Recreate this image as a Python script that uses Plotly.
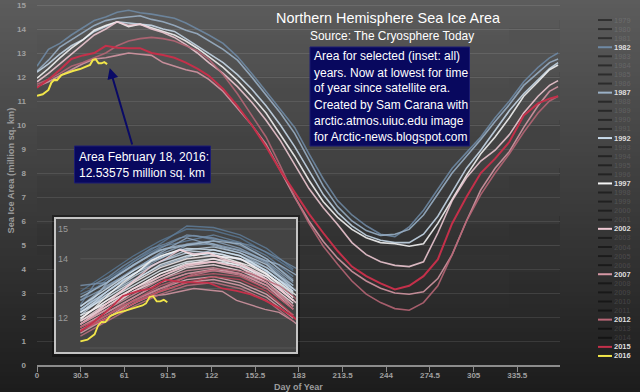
import plotly.graph_objects as go

W, H = 640, 392

# ---------------- data ----------------
DAYS = [0, 8, 16, 24, 32, 40, 48, 56, 64, 72, 80, 88, 96, 104, 112, 120, 130, 140, 150, 160,
        170, 180, 190, 200, 210, 220, 230, 240, 250, 260, 270, 280, 290, 300, 310, 320, 330,
        340, 350, 358, 364]

AREA_1982 = [12.45, 13.15, 13.4, 13.75, 14.05, 14.35, 14.5, 14.7, 14.78, 14.68, 14.62, 14.55, 14.45,
             14.25, 14.0, 13.75, 13.4, 12.85, 12.15, 11.4, 10.65, 9.9, 8.8, 7.75, 6.85, 6.25, 5.8,
             5.45, 5.35, 5.75, 6.45, 7.35, 8.2, 8.85, 9.5, 10.3, 11.0, 11.8, 12.4, 12.8, 13.0]
AREA_1987 = [12.25, 12.7, 13.25, 13.55, 13.85, 14.15, 14.35, 14.45, 14.5, 14.55, 14.4, 14.3, 14.15,
             13.95, 13.8, 13.5, 13.15, 12.7, 12.0, 11.25, 10.5, 9.65, 8.55, 7.45, 6.6, 6.0, 5.6,
             5.4, 5.45, 5.65, 6.25, 7.1, 8.0, 8.7, 9.4, 10.15, 10.85, 11.65, 12.2, 12.6, 12.75]
AREA_1992 = [12.2, 12.55, 12.95, 13.3, 13.55, 13.9, 14.1, 14.3, 14.25, 14.2, 14.15, 14.0, 13.9,
             13.6, 13.3, 13.0, 12.6, 12.1, 11.5, 10.8, 10.0, 9.1, 8.1, 7.1, 6.35, 5.8, 5.4,
             5.2, 5.1, 5.1, 5.45, 6.2, 7.2, 8.2, 8.95, 9.8, 10.6, 11.3, 11.9, 12.35, 12.6]
AREA_1997 = [11.95, 12.35, 12.8, 13.2, 13.55, 13.95, 14.15, 14.3, 14.1, 14.2, 14.05, 13.9, 13.75,
             13.5, 13.2, 12.85, 12.4, 11.85, 11.2, 10.5, 9.6, 8.7, 7.7, 6.8, 6.15, 5.65, 5.3,
             5.1, 5.05, 4.95, 5.05, 5.9, 6.9, 7.9, 8.8, 9.5, 10.3, 11.2, 11.8, 12.3, 12.5]
AREA_2002 = [11.8, 12.15, 12.55, 12.95, 13.35, 13.75, 14.0, 14.3, 14.15, 14.2, 14.0, 13.85, 13.65,
             13.35, 13.0, 12.6, 12.15, 11.6, 10.95, 10.2, 9.35, 8.35, 7.35, 6.55, 5.85, 5.1, 4.6,
             4.3, 4.15, 4.1, 4.3, 5.5, 6.85, 7.8, 8.5, 8.95, 9.6, 10.5, 11.2, 11.65, 11.85]
AREA_2007 = [11.6, 11.8, 12.05, 12.3, 12.55, 12.75, 12.8, 12.9, 13.0, 12.95, 12.9, 12.6, 12.45,
             12.3, 12.2, 11.9, 11.4, 10.7, 10.0, 9.2, 8.1, 7.0, 6.0, 5.15, 4.45, 3.9, 3.5,
             3.2, 3.0, 2.95, 3.05, 3.6, 4.6, 6.0, 7.3, 8.2, 8.9, 9.9, 10.8, 11.4, 11.6]
AREA_2012 = [11.7, 11.9, 12.15, 12.45, 12.6, 12.8, 13.0, 13.3, 13.5, 13.6, 13.65, 13.6, 13.5,
             13.3, 13.1, 12.75, 12.1, 11.3, 10.4, 9.5, 8.3, 7.0, 5.9, 4.95, 4.2, 3.5, 2.95,
             2.6, 2.35, 2.28, 2.6, 3.3, 4.6, 6.0, 7.1, 8.0, 8.8, 9.7, 10.5, 11.0, 11.2]
AREA_2015 = [11.55, 11.9, 12.3, 12.75, 12.9, 13.0, 13.3, 13.22, 13.2, 13.2, 13.0, 12.92, 12.8,
             12.6, 12.35, 12.05, 11.5, 10.8, 10.0, 9.1, 8.1, 7.2, 6.3, 5.5, 4.75, 4.1, 3.7,
             3.4, 3.15, 3.3, 3.7, 4.4, 5.9, 7.0, 8.0, 8.6, 9.3, 10.4, 10.9, 11.1, 11.2]

DAYS_2016 = [0, 4, 8, 10, 12, 14, 17, 21, 25, 30, 35, 37, 39, 41, 43, 45, 47, 49]
AREA_2016 = [11.22, 11.28, 11.46, 11.76, 11.88, 11.87, 12.08, 12.18, 12.25, 12.33, 12.43, 12.5,
             12.71, 12.74, 12.57, 12.57, 12.62, 12.53575]

INSET_DAYS = [0, 15, 30, 45, 60, 75, 90, 105, 120]
INSET_1979 = [12.9, 13.5, 14.1, 14.6, 15.0, 14.95, 14.7, 14.2, 13.6]
INSET_1980 = [12.6, 13.3, 13.9, 14.5, 15.1, 15.05, 14.8, 14.35, 13.65]
INSET_1981 = [12.8, 13.2, 13.9, 14.4, 14.6, 14.8, 14.55, 14.1, 13.4]
INSET_1983 = [13.1, 13.2, 13.8, 14.35, 14.8, 14.7, 14.45, 14.0, 13.3]
INSET_1984 = [12.3, 12.9, 13.5, 14.0, 14.45, 14.5, 14.3, 13.85, 13.1]
INSET_1985 = [12.6, 13.05, 13.65, 14.15, 14.5, 14.6, 14.35, 13.9, 13.2]
INSET_1986 = [12.4, 13.1, 13.6, 14.2, 14.7, 14.45, 14.2, 13.7, 13.0]
INSET_1988 = [12.7, 13.2, 13.8, 14.3, 14.45, 14.6, 14.5, 14.0, 13.25]
INSET_1989 = [12.2, 12.8, 13.3, 13.75, 14.05, 14.3, 14.1, 13.7, 13.1]
INSET_1990 = [12.3, 12.9, 13.5, 13.9, 14.3, 14.4, 14.2, 13.8, 13.0]
INSET_1991 = [12.1, 12.8, 13.4, 13.9, 14.2, 14.1, 14.0, 13.6, 12.9]
INSET_1993 = [12.4, 13.0, 13.6, 14.1, 14.35, 14.3, 14.1, 13.6, 12.9]
INSET_1994 = [12.2, 12.7, 13.25, 13.8, 14.1, 14.2, 14.0, 13.5, 12.8]
INSET_1995 = [12.0, 12.6, 13.1, 13.6, 13.9, 14.0, 13.75, 13.4, 12.7]
INSET_1996 = [12.1, 12.5, 13.0, 13.5, 13.85, 13.9, 13.8, 13.3, 12.6]
INSET_1998 = [12.0, 12.6, 13.2, 13.7, 14.0, 14.1, 14.0, 13.5, 12.7]
INSET_1999 = [11.9, 12.4, 13.0, 13.5, 13.8, 14.0, 13.85, 13.4, 12.6]
INSET_2000 = [11.8, 12.3, 12.9, 13.3, 13.7, 13.8, 13.6, 13.2, 12.5]
INSET_2001 = [11.9, 12.5, 13.0, 13.4, 13.75, 13.9, 13.7, 13.3, 12.6]
INSET_2003 = [11.8, 12.4, 12.9, 13.4, 13.8, 13.9, 13.7, 13.2, 12.4]
INSET_2004 = [11.7, 12.2, 12.7, 13.2, 13.5, 13.65, 13.5, 13.1, 12.3]
INSET_2005 = [11.6, 12.0, 12.6, 13.0, 13.3, 13.4, 13.2, 12.8, 12.1]
INSET_2006 = [11.5, 12.0, 12.5, 12.9, 13.2, 13.3, 13.1, 12.7, 12.0]
INSET_2008 = [11.8, 12.3, 12.8, 13.3, 13.6, 13.7, 13.5, 13.1, 12.4]
INSET_2009 = [11.7, 12.2, 12.7, 13.2, 13.5, 13.6, 13.45, 13.0, 12.3]
INSET_2010 = [11.6, 12.1, 12.6, 13.0, 13.4, 13.6, 13.5, 13.2, 12.4]
INSET_2011 = [11.4, 11.9, 12.4, 12.8, 13.1, 13.2, 13.0, 12.6, 11.9]
INSET_2013 = [11.7, 12.1, 12.6, 13.1, 13.4, 13.5, 13.4, 13.0, 12.3]
INSET_2014 = [11.6, 12.0, 12.5, 12.9, 13.2, 13.4, 13.3, 12.9, 12.1]

YEARS = list(range(1979, 2017))
SELECTED = [1982, 1987, 1992, 1997, 2002, 2007, 2012, 2015, 2016]
X_TICKS = [0, 30.5, 61, 91.5, 122, 152.5, 183, 213.5, 244, 274.5, 305, 335.5]
X_TICK_TEXT = ["0", "30.5", "61", "91.5", "122", "152.5", "183", "213.5", "244", "274.5", "305", "335.5"]
Y_TICKS = list(range(0, 16))
INSET_Y_TICKS = [11, 12, 13, 14, 15]

TITLE = "Northern Hemisphere Sea Ice Area"
SUBTITLE = "Source: The Cryosphere Today"
INFO_LINES = ["Area for selected (inset: all)", "years. Now at lowest for time",
              "of year since satellite era.", "Created by Sam Carana with",
              "arctic.atmos.uiuc.edu image", "for Arctic-news.blogspot.com"]
CALLOUT_LINES = ["Area February 18, 2016:", "12.53575 million sq. km"]

# ---------------- styles ----------------
YEAR_COLORS = ["#587692", "#5f7c98", "#67839e", "#6f8aa5", "#7891ab", "#8099b2", "#89a1b9",
               "#92a9c0", "#9bb1c7", "#a4bace", "#adc2d5", "#b6cadc", "#bfd2e3", "#c8daea",
               "#d1e2f0", "#dbe8f3", "#e5eef5", "#eef2f6", "#f6f6f6", "#f7eff1", "#f6e6ea",
               "#f5dde3", "#f3d4dc", "#f0cad4", "#ecc0cb", "#e7b6c1", "#e2acb8", "#dca2ae",
               "#d698a5", "#d08e9c", "#ca8493", "#c47a8a", "#be7080", "#b86676", "#bc5a6c",
               "#c04558", "#c4304a", "#f2e64a"]
COLOR = dict(zip(YEARS, YEAR_COLORS))

MAIN = {1982: (DAYS, AREA_1982), 1987: (DAYS, AREA_1987), 1992: (DAYS, AREA_1992),
        1997: (DAYS, AREA_1997), 2002: (DAYS, AREA_2002), 2007: (DAYS, AREA_2007),
        2012: (DAYS, AREA_2012), 2015: (DAYS, AREA_2015), 2016: (DAYS_2016, AREA_2016)}
INSET_ONLY = {1979: INSET_1979, 1980: INSET_1980, 1981: INSET_1981, 1983: INSET_1983,
              1984: INSET_1984, 1985: INSET_1985, 1986: INSET_1986, 1988: INSET_1988,
              1989: INSET_1989, 1990: INSET_1990, 1991: INSET_1991, 1993: INSET_1993,
              1994: INSET_1994, 1995: INSET_1995, 1996: INSET_1996, 1998: INSET_1998,
              1999: INSET_1999, 2000: INSET_2000, 2001: INSET_2001, 2003: INSET_2003,
              2004: INSET_2004, 2005: INSET_2005, 2006: INSET_2006, 2008: INSET_2008,
              2009: INSET_2009, 2010: INSET_2010, 2011: INSET_2011, 2013: INSET_2013,
              2014: INSET_2014}

SANS = "Liberation Sans, Arial, sans-serif"
NAVY = "#08085e"


def px(p):
    return p / W


def py(p):
    return 1 - p / H


fig = go.Figure()

# main chart
for yr in SELECTED:
    d, v = MAIN[yr]
    fig.add_trace(go.Scatter(x=d, y=v, mode="lines", xaxis="x", yaxis="y",
                             line=dict(color=COLOR[yr], width=2.0 if yr >= 2015 else 1.6),
                             opacity=1.0 if yr >= 2015 else 0.88, hoverinfo="skip"))

# inset: all years
for yr in YEARS:
    if yr in MAIN:
        d, v = MAIN[yr]
    else:
        d, v = INSET_DAYS, INSET_ONLY[yr]
    fig.add_trace(go.Scatter(x=d, y=v, mode="lines", xaxis="x2", yaxis="y2",
                             line=dict(color=COLOR[yr], width=1.8 if yr >= 2015 else 1.4),
                             opacity=1.0 if yr >= 2015 else 0.85, hoverinfo="skip"))

# legend column: line swatches
leg_line = [COLOR[y] if y in SELECTED else "rgba(0,0,0,0.45)" for y in YEARS]
fig.add_trace(go.Scatter(x=[605] * len(YEARS), y=list(range(len(YEARS))), mode="markers",
                         xaxis="x3", yaxis="y3", cliponaxis=False, hoverinfo="skip",
                         marker=dict(symbol="line-ew", size=10, line=dict(width=2, color=leg_line))))

shapes = []
# background gradient
n = 98
for i in range(n):
    t = (i + 0.5) / n
    g = int(round(92 - 64 * t))
    c = "#%02x%02x%02x" % (g, g, g)
    shapes.append(dict(type="rect", xref="paper", yref="paper", x0=0, x1=1,
                       y0=py((i + 1) * 4 + 0.5), y1=py(i * 4), fillcolor=c,
                       line=dict(width=0), layer="below"))
# inset shadow
shapes.append(dict(type="rect", xref="paper", yref="paper", x0=px(52), x1=px(300),
                   y0=py(357), y1=py(215), fillcolor="rgba(0,0,0,0.35)", line=dict(width=0),
                   layer="below"))
# inset gridlines
for v in INSET_Y_TICKS:
    shapes.append(dict(type="line", xref="x2", yref="y2", x0=0, x1=125, y0=v, y1=v,
                       line=dict(color="rgba(255,255,255,0.10)", width=1), layer="between"))
# inset border
shapes.append(dict(type="rect", xref="paper", yref="paper", x0=px(55), x1=px(297),
                   y0=py(353), y1=py(218), line=dict(color="#c4c4c4", width=2), layer="above"))
# text boxes
shapes.append(dict(type="rect", xref="paper", yref="paper", x0=px(310), x1=px(469.5),
                   y0=py(146), y1=py(47), fillcolor=NAVY, line=dict(color="#1c1c72", width=1),
                   layer="above"))
shapes.append(dict(type="rect", xref="paper", yref="paper", x0=px(74.5), x1=px(210.5),
                   y0=py(183), y1=py(146), fillcolor=NAVY, line=dict(color="#1c1c72", width=1),
                   layer="above"))

ann = []
ann.append(dict(text=TITLE, xref="paper", yref="paper", x=px(388), y=py(18), showarrow=False,
                xanchor="center", yanchor="middle", font=dict(family=SANS, size=14.4, color="#ffffff")))
ann.append(dict(text=SUBTITLE, xref="paper", yref="paper", x=px(392), y=py(36), showarrow=False,
                xanchor="center", yanchor="middle", font=dict(family=SANS, size=11.9, color="#ffffff")))
for i, line in enumerate(INFO_LINES):
    ann.append(dict(text=line, xref="paper", yref="paper", x=px(311.5), y=py(56.5 + 16 * i),
                    showarrow=False, xanchor="left", yanchor="middle",
                    font=dict(family=SANS, size=12, color="#ffffff")))
for i, line in enumerate(CALLOUT_LINES):
    ann.append(dict(text=line, xref="paper", yref="paper", x=px(76.5), y=py(156.5 + 16.3 * i),
                    showarrow=False, xanchor="left", yanchor="middle",
                    font=dict(family=SANS, size=12, color="#ffffff")))
# legend column: year labels
for i, yr in enumerate(YEARS):
    ann.append(dict(text=str(yr), xref="x3", yref="y3", x=611.5, y=i, showarrow=False,
                    xanchor="left", yanchor="middle",
                    font=dict(family=SANS, size=7.5, weight="bold",
                              color="#dedede" if yr in SELECTED else "rgba(255,255,255,0.1)")))
# arrow pointing at the latest 2016 value
ax_end = DAYS_2016[-1] + 1.8
ay_end = AREA_2016[-1] - 0.16
ann.append(dict(text="", x=ax_end, y=ay_end, xref="x", yref="y", axref="x", ayref="y",
                ax=ax_end + 16, ay=ay_end - 3.25, showarrow=True, arrowhead=2, arrowsize=1.1,
                arrowwidth=2, arrowcolor="#0a0a66"))
# axis titles
ann.append(dict(text="Sea Ice Area (million sq. km)", xref="paper", yref="paper", x=px(10.5),
                y=py(171), showarrow=False, textangle=-90, xanchor="center", yanchor="middle",
                font=dict(family=SANS, size=9.3, color="#9c9c9c", weight="bold")))
ann.append(dict(text="Day of Year", xref="paper", yref="paper", x=px(298), y=py(386.5),
                showarrow=False, xanchor="center", yanchor="middle",
                font=dict(family=SANS, size=9, color="#9c9c9c", weight="bold")))

tickfont = dict(family=SANS, size=8, color="#a0a0a0", weight="bold")

fig.update_layout(
    width=W, height=H, margin=dict(l=0, r=0, t=0, b=0, autoexpand=False),
    paper_bgcolor="#333333", plot_bgcolor="#444444", showlegend=False,
    shapes=shapes, annotations=ann,
    xaxis=dict(domain=[px(37), px(559.5)], range=[0, 365], anchor="y",
               tickvals=X_TICKS, ticktext=X_TICK_TEXT, showgrid=False, zeroline=False,
               showline=True, linecolor="#8c8c8c", linewidth=1.5, ticks="outside",
               ticklen=5, tickwidth=1.2, tickcolor="#8c8c8c", tickfont=tickfont,
               ticklabelstandoff=-3),
    yaxis=dict(domain=[py(365), py(1)], range=[0, 364 / 24], anchor="x",
               tickvals=Y_TICKS, showgrid=True, gridcolor="rgba(255,255,255,0.10)", gridwidth=1,
               zeroline=False, showline=False, ticks="", ticklabelstandoff=10, tickfont=tickfont),
    xaxis2=dict(domain=[px(55), px(297)], range=[(55 - 80.4) / 1.774, (297 - 80.4) / 1.774],
                anchor="y2", visible=False),
    yaxis2=dict(domain=[py(353), py(218)], range=[15 - (353 - 229) / 29.75, 15 + (229 - 218) / 29.75],
                anchor="x2", tickvals=INSET_Y_TICKS, showgrid=False, zeroline=False, showline=False,
                ticks="", ticklabelposition="inside",
                tickfont=dict(family=SANS, size=9, color="#9a9a9a")),
    xaxis3=dict(domain=[px(580), 1], range=[580, 640], anchor="y3", visible=False),
    yaxis3=dict(domain=[0, 1], range=[(H - 20) / 9.08, -20 / 9.08], anchor="x3", visible=False),
)

fig.write_html("out.html", config={"displayModeBar": False},
               post_script="document.body.style.margin='0';document.body.style.overflow='hidden';")
